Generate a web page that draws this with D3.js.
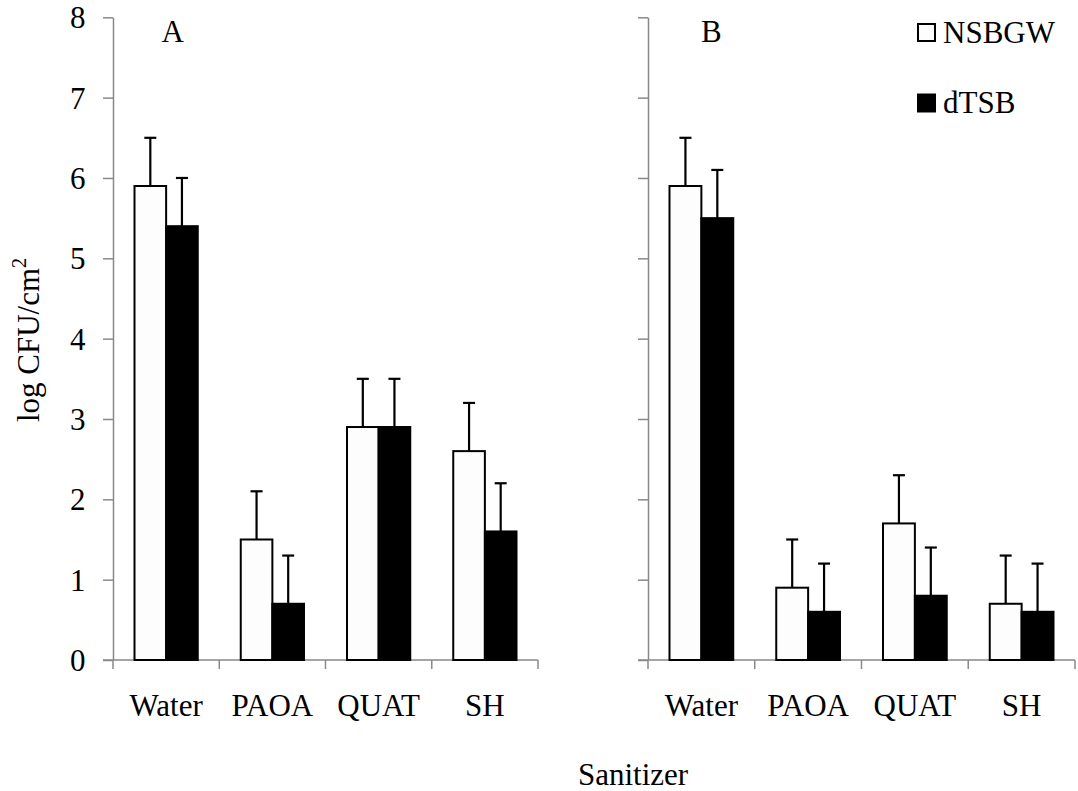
<!DOCTYPE html>
<html>
<head>
<meta charset="utf-8">
<script src="https://cdn.jsdelivr.net/npm/d3@7"></script>
<style>
  html, body { margin: 0; padding: 0; background: #ffffff; }
  svg { display: block; }
  text { font-family: "Liberation Serif", "Times New Roman", serif; fill: #000; }
</style>
</head>
<body>
<svg id="chart" width="1078" height="791"></svg>
<script>
// Sanitizers tested and the two soil conditions
const categories = ["Water", "PAOA", "QUAT", "SH"];
const seriesNames = ["NSBGW", "dTSB"];

// Panel A: means and standard deviations (log CFU/cm²)
const panelA_NSBGW = [5.9, 1.5, 2.9, 2.6];
const panelA_dTSB  = [5.4, 0.7, 2.9, 1.6];
const panelA_NSBGW_err = [0.6, 0.6, 0.6, 0.6];
const panelA_dTSB_err  = [0.6, 0.6, 0.6, 0.6];

// Panel B: means and standard deviations (log CFU/cm²)
const panelB_NSBGW = [5.9, 0.9, 1.7, 0.7];
const panelB_dTSB  = [5.5, 0.6, 0.8, 0.6];
const panelB_NSBGW_err = [0.6, 0.6, 0.6, 0.6];
const panelB_dTSB_err  = [0.6, 0.6, 0.6, 0.6];

const yTicks = [0, 1, 2, 3, 4, 5, 6, 7, 8];

const svg = d3.select("#chart");
const fillFor = { NSBGW: "#fdfdfd", dTSB: "#000000" };
const axisColor = "#898989";
const fontSize = 31;

const y = d3.scaleLinear().domain([0, 8]).range([660, 17.3]);

function drawPanel(cfg) {
  const x0 = d3.scaleBand().domain(categories).range(cfg.range).padding(0);
  const groupPad = 21.5;
  const x1 = d3.scaleBand().domain(seriesNames)
    .range([groupPad, x0.bandwidth() - groupPad]).padding(0);

  const g = svg.append("g");

  // y axis
  const yAxis = g.append("g")
    .attr("transform", `translate(${cfg.range[0]},0)`)
    .call(d3.axisLeft(y).tickValues(yTicks).tickSize(10).tickSizeOuter(0)
      .tickFormat(cfg.showYLabels ? d3.format("d") : () => ""));
  yAxis.select(".domain").attr("stroke", axisColor).attr("stroke-width", 1.5);
  yAxis.selectAll(".tick line").attr("stroke", axisColor).attr("stroke-width", 1.5);
  yAxis.selectAll(".tick text")
    .attr("font-size", fontSize)
    .attr("font-family", "Liberation Serif")
    .attr("x", -27.5)
    .attr("dy", "0.34em")
    .attr("fill", "#000");

  // x axis with ticks on category boundaries
  const bounds = categories.map(c => x0(c)).concat([cfg.range[1]]);
  g.append("line")
    .attr("x1", cfg.range[0] - 10).attr("x2", cfg.range[1])
    .attr("y1", y(0)).attr("y2", y(0))
    .attr("stroke", axisColor).attr("stroke-width", 1.5);
  g.selectAll(".xtick").data(bounds).enter().append("line")
    .attr("x1", d => d).attr("x2", d => d)
    .attr("y1", y(0)).attr("y2", y(0) + 9)
    .attr("stroke", axisColor).attr("stroke-width", 1.5);

  g.selectAll(".xlabel").data(categories).enter().append("text")
    .attr("x", d => x0(d) + x0.bandwidth() / 2)
    .attr("y", 716)
    .attr("text-anchor", "middle")
    .attr("font-size", fontSize)
    .text(d => d);

  // bars and error bars
  const rows = [];
  categories.forEach((c, i) => {
    seriesNames.forEach(s => {
      rows.push({ cat: c, series: s, value: cfg.values[s][i], err: cfg.errors[s][i] });
    });
  });

  const bw = x1.bandwidth();
  const bars = g.selectAll(".bar").data(rows).enter().append("g")
    .attr("transform", d => `translate(${x0(d.cat) + x1(d.series)},0)`);

  // error bars (upper only)
  bars.append("line")
    .attr("x1", bw / 2).attr("x2", bw / 2)
    .attr("y1", d => y(d.value)).attr("y2", d => y(d.value + d.err))
    .attr("stroke", "#000").attr("stroke-width", 2.2);
  bars.append("line")
    .attr("x1", bw / 2 - 6).attr("x2", bw / 2 + 6)
    .attr("y1", d => y(d.value + d.err)).attr("y2", d => y(d.value + d.err))
    .attr("stroke", "#000").attr("stroke-width", 2.2);

  bars.append("rect")
    .attr("x", 0)
    .attr("y", d => y(d.value))
    .attr("width", bw)
    .attr("height", d => y(0) - y(d.value))
    .attr("fill", d => fillFor[d.series])
    .attr("stroke", "#000")
    .attr("stroke-width", 2);

  // panel letter
  g.append("text")
    .attr("x", cfg.letterX)
    .attr("y", 42)
    .attr("font-size", fontSize)
    .text(cfg.letter);
}

drawPanel({
  range: [113, 538],
  letter: "A",
  letterX: 161.5,
  showYLabels: true,
  values: { NSBGW: panelA_NSBGW, dTSB: panelA_dTSB },
  errors: { NSBGW: panelA_NSBGW_err, dTSB: panelA_dTSB_err }
});

drawPanel({
  range: [648, 1075],
  letter: "B",
  letterX: 701,
  showYLabels: false,
  values: { NSBGW: panelB_NSBGW, dTSB: panelB_dTSB },
  errors: { NSBGW: panelB_NSBGW_err, dTSB: panelB_dTSB_err }
});

// y-axis title
const yTitle = svg.append("text")
  .attr("transform", "translate(39,340) rotate(-90)")
  .attr("text-anchor", "middle")
  .attr("font-size", fontSize);
yTitle.append("tspan").text("log CFU/cm");
yTitle.append("tspan").attr("font-size", 20).attr("dy", -13).text("2");

// x-axis title
svg.append("text")
  .attr("x", 633)
  .attr("y", 785)
  .attr("text-anchor", "middle")
  .attr("font-size", fontSize)
  .text("Sanitizer");

// legend
const legend = svg.append("g");
seriesNames.forEach((s, i) => {
  const ly = 24 + i * 70.5;
  legend.append("rect")
    .attr("x", 918).attr("y", ly)
    .attr("width", 17).attr("height", 17)
    .attr("fill", fillFor[s])
    .attr("stroke", "#000").attr("stroke-width", 2);
  legend.append("text")
    .attr("x", 943).attr("y", ly + 18.5)
    .attr("font-size", fontSize)
    .text(s);
});
</script>
</body>
</html>
